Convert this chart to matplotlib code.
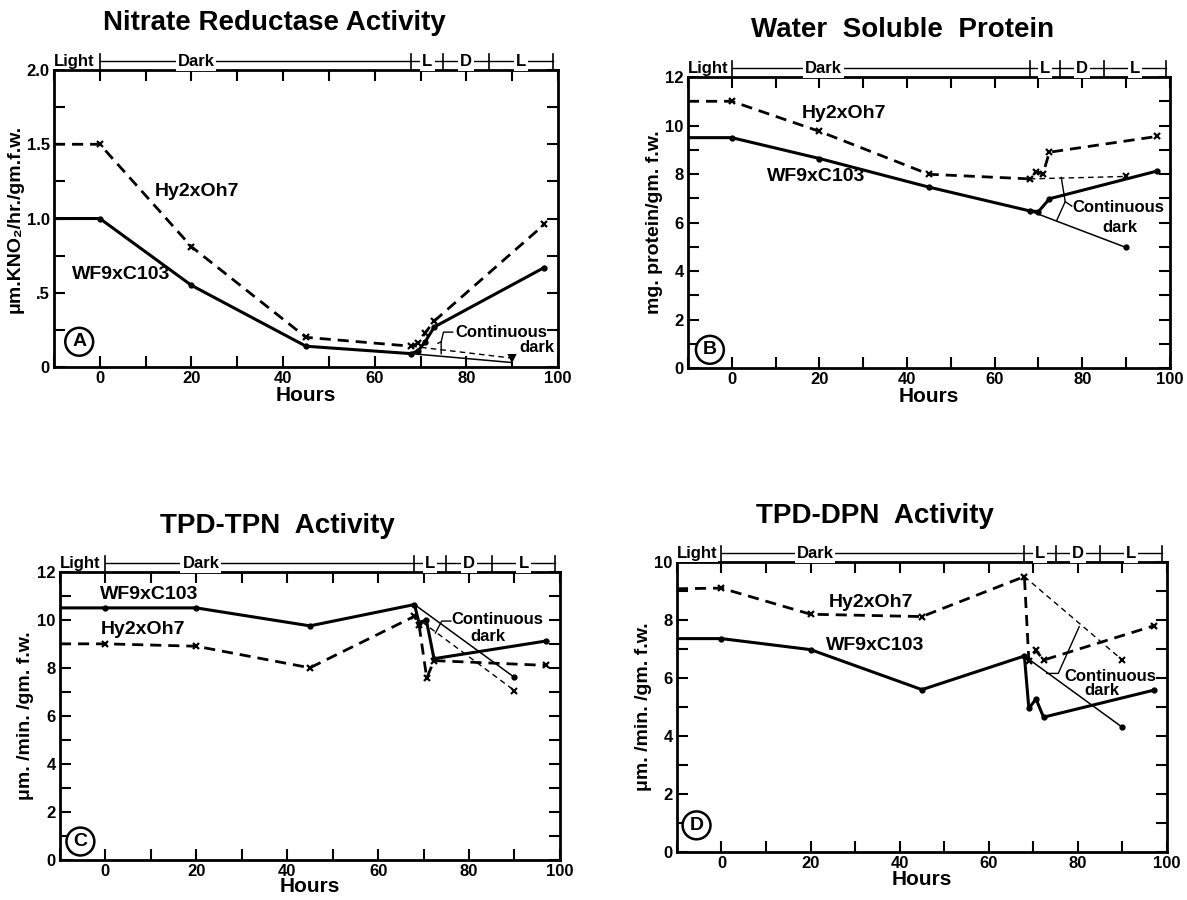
import matplotlib
matplotlib.use('Agg')
import matplotlib.pyplot as plt
from matplotlib.transforms import blended_transform_factory
from matplotlib.ticker import MultipleLocator

plt.rcParams['font.family'] = ['Liberation Sans', 'DejaVu Sans']
plt.rcParams['font.weight'] = 'bold'

# light / dark schedule shown above every panel
period_edges = [0, 68, 75, 85, 99]
period_names = ['Dark', 'L', 'D', 'L']
period_centers = [21, 71.5, 80, 92]

# A - nitrate reductase
a_hy_x = [-10, 0, 20, 45, 68, 69.5, 71, 73, 97]
a_hy_y = [1.5, 1.5, 0.81, 0.2, 0.14, 0.16, 0.23, 0.31, 0.96]
a_wf_x = [-10, 0, 20, 45, 68, 69.5, 71, 73, 97]
a_wf_y = [1.0, 1.0, 0.55, 0.14, 0.09, 0.11, 0.17, 0.27, 0.67]
a_hy_dark_x = [68, 90]
a_hy_dark_y = [0.14, 0.06]
a_wf_dark_x = [68, 90]
a_wf_dark_y = [0.09, 0.03]

# B - water soluble protein
b_hy_x = [-10, 0, 20, 45, 68, 69.5, 71, 72.5, 97]
b_hy_y = [11.0, 11.0, 9.76, 7.99, 7.8, 8.1, 8.0, 8.9, 9.55]
b_wf_x = [-10, 0, 20, 45, 68, 70, 72.5, 97]
b_wf_y = [9.5, 9.5, 8.64, 7.46, 6.48, 6.45, 6.98, 8.12]
b_hy_dark_x = [68, 90]
b_hy_dark_y = [7.8, 7.9]
b_wf_dark_x = [68, 90]
b_wf_dark_y = [6.48, 4.97]

# C - TPD-TPN
c_hy_x = [-10, 0, 20, 45, 68, 69, 70.7, 72.3, 97]
c_hy_y = [9.0, 9.0, 8.9, 8.0, 10.15, 9.8, 7.57, 8.3, 8.1]
c_wf_x = [-10, 0, 20, 45, 68, 69, 70.6, 72.3, 97]
c_wf_y = [10.5, 10.5, 10.5, 9.75, 10.64, 9.88, 10.0, 8.38, 9.12]
c_hy_dark_x = [68, 90]
c_hy_dark_y = [10.15, 7.05]
c_wf_dark_x = [68, 90]
c_wf_dark_y = [10.64, 7.6]

# D - TPD-DPN
d_hy_x = [-10, 0, 20, 45, 68, 69, 70.6, 72.3, 97]
d_hy_y = [9.08, 9.1, 8.2, 8.12, 9.5, 6.6, 6.95, 6.62, 7.8]
d_wf_x = [-10, 0, 20, 45, 68, 69, 70.6, 72.3, 97]
d_wf_y = [7.36, 7.36, 6.98, 5.6, 6.76, 4.95, 5.28, 4.65, 5.58]
d_hy_dark_x = [68, 90]
d_hy_dark_y = [9.5, 6.62]
d_wf_dark_x = [68, 90]
d_wf_dark_y = [6.76, 4.3]

panels = [
    dict(rect=[0.0455, 0.5922, 0.4246, 0.330], title='Nitrate Reductase Activity', title_x=0.437,
         ylabel='\u03bcm.KNO\u2082/hr./gm.f.w.', ymax=2.0, ymajor=0.5, yminor=0.25,
         ylabels=['0', '.5', '1.0', '1.5', '2.0'], letter='A', letter_xy=(-4.5, 0.17),
         hy=(a_hy_x, a_hy_y), wf=(a_wf_x, a_wf_y), hy_dark=(a_hy_dark_x, a_hy_dark_y),
         wf_dark=(a_wf_dark_x, a_wf_dark_y), dark_marker='v',
         hy_lab=(12, 1.18), wf_lab=(-6, 0.62),
         cont=(77.5, 0.235), dark=(91.5, 0.13), xpad=0,
         brackets=[[(77.0, 0.235), (75.0, 0.235), (74.5, 0.17), (74.5, 0.09)],
                   [(74.5, 0.17), (73.8, 0.16)]]),
    dict(rect=[0.5796, 0.5911, 0.4060, 0.3233], title='Water  Soluble  Protein', title_x=0.445,
         ylabel='mg. protein/gm. f.w.', ymax=12, ymajor=2, yminor=1,
         ylabels=None, letter='B', letter_xy=(-5, 0.75),
         hy=(b_hy_x, b_hy_y), wf=(b_wf_x, b_wf_y), hy_dark=(b_hy_dark_x, b_hy_dark_y),
         wf_dark=(b_wf_dark_x, b_wf_dark_y), dark_marker='x',
         hy_lab=(16, 10.5), wf_lab=(8, 7.9),
         cont=(77.8, 6.6), dark=(84.5, 5.8), xpad=0,
         brackets=[[(75.2, 7.86), (76.1, 6.86), (74.2, 6.1)],
                   [(76.1, 6.86), (77.6, 6.68)]]),
    dict(rect=[0.0505, 0.0450, 0.4212, 0.3195], title='TPD-TPN  Activity', title_x=0.434,
         ylabel='\u03bcm. /min. /gm. f.w.', ymax=12, ymajor=2, yminor=1,
         ylabels=None, letter='C', letter_xy=(-5.5, 0.75),
         hy=(c_hy_x, c_hy_y), wf=(c_wf_x, c_wf_y), hy_dark=(c_hy_dark_x, c_hy_dark_y),
         wf_dark=(c_wf_dark_x, c_wf_dark_y), dark_marker='x',
         hy_lab=(-1, 9.6), wf_lab=(-1.2, 11.05),
         cont=(76.2, 10.0), dark=(80.2, 9.3), xpad=-1,
         brackets=[[(76.0, 9.95), (74.0, 9.95), (72.6, 9.45)]]),
    dict(rect=[0.5703, 0.0533, 0.4128, 0.3222], title='TPD-DPN  Activity', title_x=0.404,
         ylabel='\u03bcm. /min. /gm. f.w.', ymax=10, ymajor=2, yminor=1,
         ylabels=None, letter='D', letter_xy=(-5.6, 0.92),
         hy=(d_hy_x, d_hy_y), wf=(d_wf_x, d_wf_y), hy_dark=(d_hy_dark_x, d_hy_dark_y),
         wf_dark=(d_wf_dark_x, d_wf_dark_y), dark_marker='x',
         hy_lab=(24, 8.62), wf_lab=(23.5, 7.13),
         cont=(77.0, 6.07), dark=(81.5, 5.57), xpad=-1,
         brackets=[[(80.3, 7.77), (75.6, 6.16), (73.0, 6.16)]]),
]

fig = plt.figure(figsize=(11.87, 9.0), dpi=100)

for p in panels:
    ax = fig.add_axes(p['rect'])
    ax.set_xlim(-10, 100)
    ax.set_ylim(0, p['ymax'])
    ax.xaxis.set_major_locator(MultipleLocator(20))
    ax.xaxis.set_minor_locator(MultipleLocator(10))
    ax.yaxis.set_major_locator(MultipleLocator(p['ymajor']))
    ax.yaxis.set_minor_locator(MultipleLocator(p['yminor']))
    if p['ylabels']:
        ax.set_yticks([i * p['ymajor'] for i in range(len(p['ylabels']))])
        ax.set_yticklabels(p['ylabels'])
    ax.tick_params(which='both', direction='in', top=True, right=True, length=8, width=1.5,
                   labelsize=12, pad=3)
    for lab in ax.get_xticklabels() + ax.get_yticklabels():
        lab.set_fontweight('bold')
    for s in ax.spines.values():
        s.set_linewidth(2)

    n = len(p['hy'][0])
    ax.plot(*p['hy'], color='black', lw=2, ls=(0, (4, 2.5)), marker='x', ms=4.5, mew=1.6,
            markevery=list(range(1, n)))
    n = len(p['wf'][0])
    ax.plot(*p['wf'], color='black', lw=2.2, marker='o', ms=3.5, markevery=list(range(1, n)))
    ax.plot(*p['hy_dark'], color='black', lw=1, ls=(0, (4, 3)), marker=p['dark_marker'], ms=5,
            mew=1.5, markevery=[1])
    ax.plot(*p['wf_dark'], color='black', lw=1.1, marker='o', ms=3.5,
            markevery=[] if p['letter'] == 'A' else [1])

    for br in p['brackets']:
        ax.plot([q[0] for q in br], [q[1] for q in br], color='black', lw=1)

    ax.text(*p['hy_lab'], 'Hy2xOh7', fontsize=14, fontweight='bold', va='center')
    ax.text(*p['wf_lab'], 'WF9xC103', fontsize=14, fontweight='bold', va='center')
    ax.text(*p['cont'], 'Continuous', fontsize=12, fontweight='bold', va='center')
    ax.text(*p['dark'], 'dark', fontsize=12, fontweight='bold', va='center')
    ax.text(*p['letter_xy'], p['letter'], fontsize=14, fontweight='bold', ha='center', va='center',
            bbox=dict(boxstyle='circle,pad=0.28', fc='white', ec='black', lw=1.8))

    ax.set_xlabel('Hours', fontsize=15, fontweight='bold', labelpad=p['xpad'])
    ax.set_ylabel(p['ylabel'], fontsize=14, fontweight='bold', labelpad=2)
    ax.text(p['title_x'], 1.16, p['title'], transform=ax.transAxes, fontsize=20,
            fontweight='bold', ha='center', va='center')

    # light/dark bar above the frame
    tr = blended_transform_factory(ax.transData, ax.transAxes)
    yb = 1.03
    ax.plot([period_edges[0], period_edges[-1]], [yb, yb], color='black', lw=1, transform=tr,
            clip_on=False)
    for e in period_edges:
        ax.plot([e, e], [yb - 0.025, yb + 0.025], color='black', lw=1.2, transform=tr,
                clip_on=False)
    ax.text(-10, yb, 'Light', transform=tr, fontsize=12, fontweight='bold', ha='left',
            va='center', bbox=dict(fc='white', ec='none', pad=0.5))
    for name, c in zip(period_names, period_centers):
        ax.text(c, yb, name, transform=tr, fontsize=12, fontweight='bold', ha='center',
                va='center', bbox=dict(fc='white', ec='none', pad=1.5))

fig.savefig('out.png', dpi=100)
